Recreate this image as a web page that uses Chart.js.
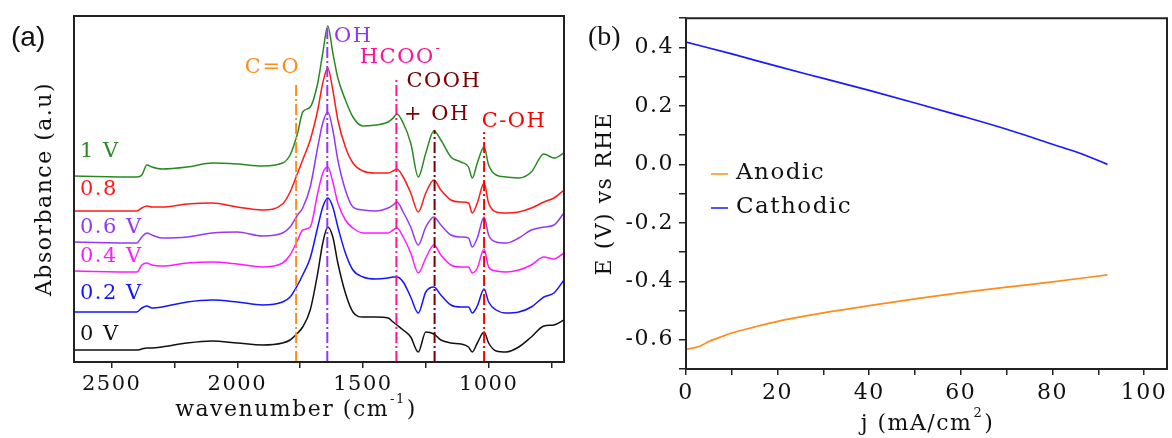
<!DOCTYPE html>
<html>
<head>
<meta charset="utf-8">
<script src="https://cdn.jsdelivr.net/npm/chart.js@4.4.0/dist/chart.umd.min.js"></script>
<style>
  html, body { margin: 0; padding: 0; background: #fff; }
  #wrap { position: relative; width: 1172px; height: 438px; }
  #chartA { position: absolute; left: 0; top: 0; }
  #chartB { position: absolute; left: 580px; top: 0; }
</style>
</head>
<body>
<div id="wrap">
  <canvas id="chartA" width="580" height="438"></canvas>
  <canvas id="chartB" width="592" height="438"></canvas>
</div>
<script>
// ---- panel (a) data: FTIR spectra, absorbance in arbitrary units (offset stack)
const wavenumbers = [2650, 2400, 2380, 2360, 2340, 2300, 2200, 2100, 2000, 1900,
                     1820, 1790, 1760, 1740, 1710, 1680, 1660, 1640, 1620, 1600,
                     1570, 1540, 1500, 1450, 1400, 1380, 1365, 1340, 1310, 1280,
                     1250, 1218, 1190, 1150, 1110, 1080, 1065, 1045, 1018, 1000,
                     970, 930, 880, 830, 780, 740, 700]
const abs1V  = [186,185,187,197,195, 193,195,199,198,196, 199,207,229,250,255, 279,309,336,309,284,
                262,245,236,237,240, 244,248,239,219,185, 209,231,222,205,200, 195,184,199,215,197,
                187,185,184,190,208, 204,209]
const abs08V = [151,151,154,156,155, 155,158,159,155,152, 158,170,189,202,222, 252,279,294,272,242,
                215,199,191,189,189, 191,193,185,169,150, 169,182,172,162,160, 159,149,159,179,159,
                150,149,150,154,160, 164,172]
const abs06V = [120,119,125,129,127, 124,125,129,130,126, 129,135,147,154,175, 215,239,250,232,202,
                172,155,152,151,154, 157,160,150,135,117, 135,145,137,127,125, 124,115,124,145,127,
                120,119,124,132,135, 137,149]
const abs04V = [91,90,97,99,97, 96,99,100,98,95, 99,107,122,132,135, 169,189,195,180,159,
                142,134,129,129,129, 132,134,125,109,89, 104,117,107,97,95, 95,89,94,113,95,
                91,90,92,97,105, 103,109]
const abs02V = [50,50,54,56,54, 55,60,62,60,57, 60,65,77,87,104, 135,155,164,155,135,
                109,92,85,83,84, 85,85,80,65,49, 70,75,67,57,55, 55,49,56,73,60,
                52,49,50,55,65, 69,82]
const abs0V  = [12,12,13,14,14, 15,19,21,19,17, 19,22,29,35,52, 89,119,135,125,99,
                69,50,45,45,44, 40,37,32,25,10, 30,28,22,19,18, 15,10,19,30,19,
                11,10,15,25,36, 37,42]

const spectraLabels = ["1 V", "0.8", "0.6 V", "0.4 V", "0.2 V", "0 V"]
const spectraColors = ["#2a8a22", "#ff1a1a", "#9438f5", "#ff1aff", "#1414ff", "#111111"]
const spectraValues = [abs1V, abs08V, abs06V, abs04V, abs02V, abs0V]
const labelHeights  = [210, 172, 134, 105, 68, 27]   // where each voltage label sits (a.u.)

// band assignments (dash-dot guides)
const bandNames  = ["C=O", "OH", "HCOO", "COOH", "C-OH"]
const bandWaves  = [1766, 1642, 1367, 1215, 1018]
const bandTops   = [280, 337, 285, 232, 230]
const bandColors = ["#ff8c1a", "#9438f5", "#ff1493", "#7a0000", "#ff0000"]

const xMajorA = [2500, 2000, 1500, 1000]
const xMinorA = [2250, 1750, 1250, 750]

// ---- panel (b) data
const anodicJ   = [0, 3, 5, 8, 10, 15, 20, 30, 40, 50, 60, 70, 80, 92]
const anodicE   = [-0.633, -0.622, -0.606, -0.588, -0.577, -0.556, -0.537, -0.508, -0.483, -0.46, -0.439, -0.42, -0.402, -0.378]
const cathodicJ = [0, 10, 20, 30, 40, 50, 60, 70, 80, 86, 92]
const cathodicE = [0.418, 0.378, 0.335, 0.294, 0.253, 0.21, 0.166, 0.12, 0.069, 0.038, 0.0]

const xTicksB = [0, 10, 20, 30, 40, 50, 60, 70, 80, 90, 100]
const yTicksB = [-0.7, -0.6, -0.5, -0.4, -0.3, -0.2, -0.1, 0, 0.1, 0.2, 0.3, 0.4, 0.5]

const serif = "'DejaVu Serif', 'Liberation Serif', serif"
Chart.defaults.font.family = serif
Chart.defaults.color = "#111"

function toPoints(xs, ys){
    return xs.map((v, i) => ({x: v, y: ys[i]}))
}

// frame round the plot area (all four sides)
function drawBox(ctx, a){
    ctx.setLineDash([])
    ctx.strokeStyle = "#222"
    ctx.lineWidth = 2
    ctx.beginPath()
    ctx.moveTo(a.left, a.top)
    ctx.lineTo(a.right, a.top)
    ctx.lineTo(a.right, a.bottom)
    ctx.lineTo(a.left, a.bottom)
    ctx.closePath()
    ctx.stroke()
}

// text with a small raised suffix, e.g. cm^-1
function superText(ctx, base, sup, x, y, size, align, tail){
    ctx.font = size + "px " + serif
    const w1 = ctx.measureText(base).width
    const wt = tail ? ctx.measureText(tail).width : 0
    ctx.font = Math.round(size*0.6) + "px " + serif
    const w2 = ctx.measureText(sup).width
    let start = x
    if (align === "center") start = x - (w1 + w2 + wt)/2
    ctx.textAlign = "left"
    ctx.font = size + "px " + serif
    ctx.fillText(base, start, y)
    ctx.font = Math.round(size*0.6) + "px " + serif
    ctx.fillText(sup, start + w1 + 1, y - size*0.45)
    if (tail){
        ctx.font = size + "px " + serif
        ctx.fillText(tail, start + w1 + w2 + 2, y)
    }
}

// wider letter spacing, closer to the Bookman-like face of the original
const spacing = {
    id: "spacing",
    beforeDraw(chart){ chart.ctx.letterSpacing = "1.5px" }
}

// ---- panel (a)
const datasetsA = []
for (let i = 0; i < bandWaves.length; i++){
    datasetsA.push({
        data: [{x: bandWaves[i], y: 0}, {x: bandWaves[i], y: bandTops[i]}],
        borderColor: bandColors[i],
        borderWidth: 2,
        borderDash: [11, 3, 2, 3],
        pointRadius: 0,
        tension: 0,
        order: 0
    })
}
for (let i = 0; i < spectraValues.length; i++){
    datasetsA.push({
        data: toPoints(wavenumbers, spectraValues[i]),
        borderColor: spectraColors[i],
        borderWidth: 1.5,
        pointRadius: 0,
        cubicInterpolationMode: "monotone",
        order: 1
    })
}

const panelA = {
    id: "panelA",
    afterDraw(chart){
        const {ctx, chartArea: a, scales: {x, y}} = chart
        ctx.save()
        drawBox(ctx, a)
        ctx.textBaseline = "middle"

        // voltage labels at the left of each trace
        ctx.font = "21px " + serif
        ctx.textAlign = "left"
        for (let i = 0; i < spectraLabels.length; i++){
            ctx.fillStyle = spectraColors[i]
            ctx.fillText(spectraLabels[i], a.left + 6, y.getPixelForValue(labelHeights[i]))
        }

        // band names
        ctx.textAlign = "center"
        ctx.fillStyle = bandColors[0]
        ctx.fillText("C=O", x.getPixelForValue(1860), y.getPixelForValue(294))
        ctx.textAlign = "left"
        ctx.fillStyle = bandColors[1]
        ctx.fillText("OH", x.getPixelForValue(1615), y.getPixelForValue(325))
        ctx.fillStyle = bandColors[2]
        superText(ctx, "HCOO", "-", x.getPixelForValue(1352), y.getPixelForValue(304), 21, "center")
        ctx.textAlign = "center"
        ctx.font = "21px " + serif
        ctx.fillStyle = bandColors[3]
        ctx.fillText("COOH", x.getPixelForValue(1178), y.getPixelForValue(280))
        ctx.fillText("+ OH", x.getPixelForValue(1206), y.getPixelForValue(247))
        ctx.fillStyle = bandColors[4]
        ctx.fillText("C-OH", x.getPixelForValue(899), y.getPixelForValue(240))

        // axis titles
        ctx.fillStyle = "#111"
        superText(ctx, "wavenumber (cm", "-1", (a.left + a.right)/2 - 24, 410, 22, "center", ")")
        ctx.save()
        ctx.translate(45, (a.top + a.bottom)/2)
        ctx.rotate(-Math.PI/2)
        ctx.textAlign = "center"
        ctx.font = "22px " + serif
        ctx.fillText("Absorbance (a.u)", 0, 0)
        ctx.restore()

        ctx.letterSpacing = "0px"
        ctx.font = "28px 'Liberation Sans', Arial, sans-serif"
        ctx.textAlign = "left"
        ctx.fillText("(a)", 11, 38)
        ctx.restore()
    }
}

new Chart(document.getElementById("chartA"), {
    type: "line",
    data: {datasets: datasetsA},
    options: {
        responsive: false,
        animation: false,
        layout: {padding: {left: 74, top: 16, right: 16, bottom: 0}},
        plugins: {legend: {display: false}, tooltip: {enabled: false}},
        scales: {
            x: {
                type: "linear",
                reverse: true,
                min: 700,
                max: 2650,
                afterBuildTicks: s => { s.ticks = xMajorA.concat(xMinorA).sort((p, q) => q - p).map(v => ({value: v})) },
                afterFit: s => { s.height = 76 },
                ticks: {
                    autoSkip: false,
                    maxRotation: 0,
                    padding: 4,
                    font: {size: 21},
                    color: "#111",
                    callback: v => xMajorA.includes(v) ? String(v) : ""
                },
                grid: {drawOnChartArea: false, tickLength: 6, color: "#222", lineWidth: 1.5},
                border: {display: false}
            },
            y: {display: false, min: 0, max: 346}
        }
    },
    plugins: [spacing, panelA]
})

// ---- panel (b)
const panelB = {
    id: "panelB",
    afterDraw(chart){
        const {ctx, chartArea: a} = chart
        ctx.save()
        drawBox(ctx, a)
        ctx.textBaseline = "middle"

        // legend inside the plot
        const entries = [["Anodic", "#ff8c1a"], ["Cathodic", "#1a1aff"]]
        entries.forEach((e, i) => {
            const ly = 174 + i*34
            ctx.strokeStyle = e[1]
            ctx.lineWidth = 1.5
            ctx.beginPath()
            ctx.moveTo(a.left + 25, ly)
            ctx.lineTo(a.left + 42, ly)
            ctx.stroke()
            ctx.fillStyle = "#111"
            ctx.font = "23px " + serif
            ctx.textAlign = "left"
            ctx.fillText(e[0], a.left + 50, ly - 1)
        })

        // axis titles
        ctx.fillStyle = "#111"
        superText(ctx, "j (mA/cm", "2", (a.left + a.right)/2, 424, 22, "center", ")")

        ctx.save()
        ctx.translate(25, (a.top + a.bottom)/2)
        ctx.rotate(-Math.PI/2)
        ctx.textAlign = "center"
        ctx.font = "22px " + serif
        ctx.fillText("E (V) vs RHE", 0, 0)
        ctx.restore()

        ctx.letterSpacing = "0px"
        ctx.font = "28px 'Liberation Serif', serif"
        ctx.textAlign = "left"
        ctx.fillText("(b)", 8, 38)
        ctx.restore()
    }
}

new Chart(document.getElementById("chartB"), {
    type: "line",
    data: {
        datasets: [
            {label: "Anodic", data: toPoints(anodicJ, anodicE), borderColor: "#ff8c1a", borderWidth: 1.7,
             pointRadius: 0, cubicInterpolationMode: "monotone"},
            {label: "Cathodic", data: toPoints(cathodicJ, cathodicE), borderColor: "#1a1aff", borderWidth: 1.7,
             pointRadius: 0, cubicInterpolationMode: "monotone"}
        ]
    },
    options: {
        responsive: false,
        animation: false,
        layout: {padding: {left: 0, top: 16, right: 5, bottom: 0}},
        plugins: {legend: {display: false}, tooltip: {enabled: false}},
        scales: {
            x: {
                type: "linear",
                min: 0,
                max: 105,
                afterBuildTicks: s => { s.ticks = xTicksB.map(v => ({value: v})) },
                afterFit: s => { s.height = 69 },
                ticks: {
                    autoSkip: false,
                    maxRotation: 0,
                    padding: 5,
                    font: {size: 22},
                    color: "#111",
                    callback: v => (v % 20 === 0) ? String(v) : ""
                },
                grid: {drawOnChartArea: false, tickLength: 6, color: "#222", lineWidth: 1.5},
                border: {display: false}
            },
            y: {
                type: "linear",
                min: -0.7,
                max: 0.5,
                afterBuildTicks: s => { s.ticks = yTicksB.map(v => ({value: v})) },
                afterFit: s => { s.width = 106 },
                ticks: {
                    autoSkip: false,
                    padding: 5,
                    font: {size: 22},
                    color: "#111",
                    callback: v => {
                        const k = Math.round(v*10)
                        if (k % 2 !== 0 || k === -7 || k === 5) return ""
                        return (k/10).toFixed(1)
                    }
                },
                grid: {drawOnChartArea: false, tickLength: 7, color: "#222", lineWidth: 1.5},
                border: {display: false}
            }
        }
    },
    plugins: [spacing, panelB]
})
</script>
</body>
</html>
